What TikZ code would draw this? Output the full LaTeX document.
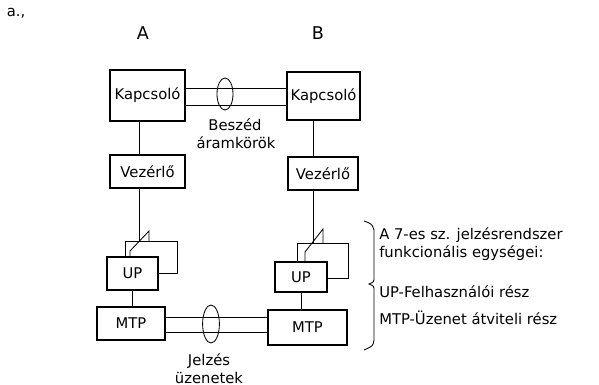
\documentclass[tikz,border=0pt]{standalone}
\usepackage{fontspec}
\setmainfont{DejaVu Sans}
\usetikzlibrary{shapes.geometric,calc}

\tikzset{
  blokk/.style={draw,line width=1.6pt,inner sep=0pt,font=\fontsize{10.5}{12}\selectfont},
  kotes/.style={line width=0.6pt},
  gyuru/.style={ellipse,draw,line width=0.6pt,inner sep=0pt},
  felirat/.style={font=\fontsize{10.5}{12}\selectfont,inner sep=0pt},
}

\begin{document}
\begin{tikzpicture}[x=0.025cm,y=-0.025cm]
\useasboundingbox (0,0) rectangle (599,385);

\node[felirat] (cim) at (16,13) {a.,};
\node[font=\fontsize{12.5}{14}\selectfont] (kozpA) at (143,33) {A};
\node[font=\fontsize{12.5}{14}\selectfont] (kozpB) at (318,33) {B};

% A oldal
\node[blokk,minimum width=1.875cm,minimum height=1.275cm] (kapA) at (147.5,95.5) {Kapcsoló};
\node[blokk,minimum width=1.875cm,minimum height=0.825cm] (vezA) at (147.5,171.5) {Vezérlő};
\node[blokk,minimum width=1.275cm,minimum height=0.825cm] (upA) at (132.5,273.5) {UP};
\node[blokk,minimum width=1.7cm,minimum height=0.825cm] (mtpA) at (131,323.5) {MTP};

% B oldal
\node[blokk,minimum width=1.825cm,minimum height=1.2cm] (kapB) at (323.5,96) {Kapcsoló};
\node[blokk,minimum width=1.75cm,minimum height=0.825cm] (vezB) at (323,173.5) {Vezérlő};
\node[blokk,minimum width=1.3cm,minimum height=0.75cm] (upB) at (301,277) {UP};
\node[blokk,minimum width=1.975cm,minimum height=0.875cm] (mtpB) at (307.5,327.5) {MTP};

% beszed aramkorok
\coordinate (sp1) at (0,88);
\coordinate (sp2) at (0,105);
\draw[kotes] (kapA.east |- sp1) -- (kapB.west |- sp1);
\draw[kotes] (kapA.east |- sp2) -- (kapB.west |- sp2);
\node[gyuru,minimum width=0.4cm,minimum height=0.8cm] (gyB) at (225,94) {};
\node[felirat] (besz) at (235,125) {Beszéd};
\node[felirat] (aram) at (236,143) {áramkörök};

% jelzes uzenetek
\coordinate (jl1) at (0,317);
\coordinate (jl2) at (0,332);
\draw[kotes] (mtpA.east |- jl1) -- (mtpB.west |- jl1);
\draw[kotes] (mtpA.east |- jl2) -- (mtpB.west |- jl2);
\node[gyuru,minimum width=0.42cm,minimum height=0.95cm] (gyJ) at (211,324) {};
\node[felirat] (jelz) at (209,361) {Jelzés};
\node[felirat] (uzen) at (209,378) {üzenetek};

% fuggoleges kotesek
\coordinate (vA) at ($(kapA.south)+(-8.5,0)$);
\coordinate (vB) at ($(kapB.south)+(-10.5,0)$);
\draw[kotes] (vA) -- (vA |- vezA.north);
\draw[kotes] (vB) -- (vB |- vezB.north);
\draw[kotes] (upA.south) -- (upA.south |- mtpA.north);
\draw[kotes] (upB.south) -- (upB.south |- mtpB.north);

% UP hurok es kapcsolo, A
\coordinate (rA1) at (125,241);
\coordinate (rA2) at (177,273);
\coordinate (swA) at (130,251);
\coordinate (swAt) at (149,231);
\draw[kotes] (rA1 |- upA.north) -- (rA1) -- (rA2 |- rA1) -- (rA2) -- (upA.east |- rA2);
\draw[kotes] (swA |- upA.north) -- (swA) -- (swAt) -- (swAt |- rA1);
\draw[kotes] (vA |- vezA.south) -- (vA |- rA1);

% UP hurok es kapcsolo, B
\coordinate (rB1) at (297,243);
\coordinate (rB2) at (348,278);
\coordinate (swB) at (305,252);
\coordinate (swBt) at (323,229);
\draw[kotes] (rB1 |- upB.north) -- (rB1) -- (rB2 |- rB1) -- (rB2) -- (upB.east |- rB2);
\draw[kotes] (swB |- upB.north) -- (swB) -- (swBt) -- (swBt |- rB1);
\draw[kotes] (vB |- vezB.south) -- (vB |- rB1);

% kapcsos zarojel es magyarazat
\draw[kotes] (364,221) .. controls (372,224) .. (374,230) -- (374,277)
  .. controls (374,282) .. (369,284) .. controls (374,286) .. (374,291)
  -- (374,340) .. controls (373,346) .. (364,350);
\node[felirat,anchor=west] (mag1) at (379,235) {A 7-es sz. jelzésrendszer};
\node[felirat,anchor=west] (mag2) at (379,253) {funkcionális egységei:};
\node[felirat,anchor=west] (mag3) at (379,292) {UP-Felhasználói rész};
\node[felirat,anchor=west] (mag4) at (379,318) {MTP-Üzenet átviteli rész};
\end{tikzpicture}
\end{document}
